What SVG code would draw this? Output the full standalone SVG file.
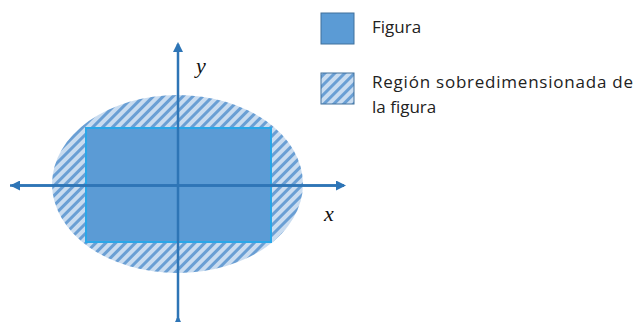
<svg xmlns="http://www.w3.org/2000/svg" width="635" height="322" viewBox="0 0 635 322">
<style>
.lbl{font-family:"Open Sans","Liberation Sans",sans-serif;font-size:17px;fill:#222}
.var{font-family:"Liberation Serif",serif;font-style:italic;font-size:22px;fill:#111}
.axis{stroke:#2e75b6;stroke-width:2.5;fill:none}
</style>
<defs>
<pattern id="hatch" patternUnits="userSpaceOnUse" width="7" height="7" patternTransform="rotate(45)">
<rect width="7" height="7" fill="#c9dcf0"/>
<rect width="3" height="7" fill="#6a9fd4"/>
</pattern>
<marker id="arr" viewBox="0 0 10 10" refX="8" refY="5" markerWidth="4" markerHeight="4" orient="auto" markerUnits="strokeWidth">
<path d="M0,0 L10,5 L0,10 z" fill="#2e75b6"/>
</marker>
</defs>
<g id="region">
<ellipse cx="177.5" cy="184" rx="125.5" ry="89" fill="url(#hatch)"/>
</g>
<g id="figure">
<rect x="86" y="128" width="185" height="114" fill="#5b9bd5" stroke="#2aa7e8" stroke-width="2"/>
</g>
<g id="connectors">
<line class="axis" x1="178" y1="320" x2="178" y2="44" marker-end="url(#arr)"/>
<line class="axis" x1="178" y1="320" x2="178" y2="318" marker-end="url(#arr)"/>
<line class="axis" x1="10" y1="185.5" x2="344" y2="185.5" marker-end="url(#arr)"/>
<line class="axis" x1="344" y1="185.5" x2="12" y2="185.5" marker-end="url(#arr)"/>
</g>
<g id="labels">
<text class="var" x="196" y="73">y</text>
<text class="var" x="324" y="221">x</text>
</g>
<g id="legend-figura">
<rect x="321" y="13" width="33" height="31" fill="#5b9bd5" stroke="#41719c" stroke-width="1"/>
<text class="lbl" x="372" y="33">Figura</text>
</g>
<g id="legend-region">
<rect x="321" y="73" width="33" height="31" fill="url(#hatch)" stroke="#41719c" stroke-width="1"/>
<text class="lbl" x="372" y="88" textLength="261" lengthAdjust="spacing">Región sobredimensionada de</text>
<text class="lbl" x="372" y="113">la figura</text>
</g>
</svg>
